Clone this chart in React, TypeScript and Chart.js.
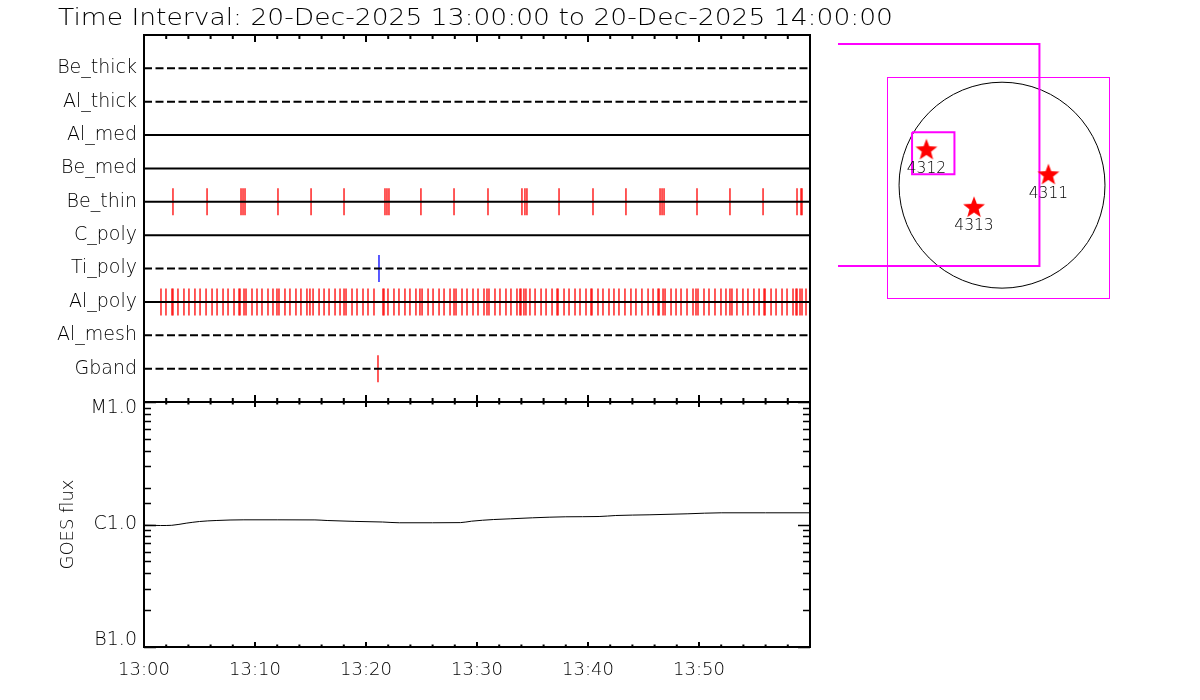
import React, { useEffect, useRef } from 'react';
import { Chart, registerables } from 'chart.js';

Chart.register(...registerables);

// ---------------- data ----------------
const TITLE = 'Time Interval: 20-Dec-2025 13:00:00 to 20-Dec-2025 14:00:00';

const FILTERS = ['Be_thick', 'Al_thick', 'Al_med', 'Be_med', 'Be_thin', 'C_poly', 'Ti_poly', 'Al_poly', 'Al_mesh', 'Gband'];
const FILTER_DASHED = [true, true, false, false, false, false, true, false, true, true];

// exposure times, minutes after 13:00
const BE_THIN_TIMES = [2.61, 5.68, 8.74, 8.92, 9.10, 12.07, 15.05, 18.02, 21.71, 21.89, 22.07, 24.95, 27.93,
  30.99, 34.05, 34.32, 34.50, 37.39, 40.45, 43.42, 46.49, 46.67, 46.85, 49.82, 52.79, 55.77, 58.83, 59.19, 59.28];
const TI_POLY_TIMES = [21.17];
const AL_POLY_TIMES = [1.53, 1.98, 2.52, 2.61, 3.06, 3.60, 4.05, 4.59, 5.05, 5.59, 6.13, 6.58, 7.12, 7.57, 8.11,
  8.56, 8.65, 9.01, 9.19, 9.73, 10.18, 10.63, 11.17, 11.62, 11.98, 12.16, 12.70, 13.15, 13.69, 14.14, 14.68, 14.95,
  15.23, 15.77, 16.22, 16.67, 17.21, 17.66, 18.02, 18.20, 18.74, 19.19, 19.73, 20.18, 20.72, 21.53, 21.62, 21.98,
  22.52, 22.97, 23.51, 23.96, 24.50, 24.86, 25.05, 25.59, 26.04, 26.58, 27.03, 27.57, 27.93, 28.11, 28.65, 29.10,
  29.64, 30.09, 30.63, 30.90, 31.08, 31.62, 32.07, 32.61, 33.06, 33.60, 33.87, 33.96, 34.23, 34.41, 34.77, 35.23,
  35.77, 36.22, 36.76, 37.21, 37.30, 37.84, 38.29, 38.83, 39.28, 39.82, 40.27, 40.36, 40.90, 41.35, 41.89, 42.34,
  42.79, 43.33, 43.87, 44.32, 44.86, 45.41, 45.86, 46.31, 46.40, 46.76, 46.94, 47.48, 47.93, 48.38, 48.92, 49.46,
  49.73, 49.91, 50.45, 50.90, 51.44, 51.98, 52.43, 52.79, 52.97, 53.42, 53.96, 54.41, 54.95, 55.41, 55.86, 55.95,
  56.49, 56.94, 57.48, 57.93, 58.47, 58.74, 58.83, 59.10, 59.28, 59.64];
const GBAND_TIMES = [21.08];

const TIME_TICK_LABELS = ['13:00', '13:10', '13:20', '13:30', '13:40', '13:50'];

const GOES_MINUTES = [0, 1.5, 2.5, 3.8, 5.0, 6.5, 9, 12, 15.4, 16.5, 19, 21.5, 23, 26, 28.5, 29.5, 31.5, 33, 35, 38,
  41, 42.5, 45.5, 49, 52, 56, 60];
const GOES_FLUX = [0.987e-6, 0.981e-6, 0.985e-6, 1.025e-6, 1.058e-6, 1.078e-6, 1.092e-6, 1.092e-6, 1.090e-6,
  1.078e-6, 1.060e-6, 1.048e-6, 1.033e-6, 1.033e-6, 1.036e-6, 1.064e-6, 1.098e-6, 1.113e-6, 1.134e-6, 1.156e-6,
  1.162e-6, 1.184e-6, 1.200e-6, 1.223e-6, 1.246e-6, 1.246e-6, 1.246e-6];
const FLUX_TICK_VALUES = [1e-7, 1e-6, 1e-5];
const FLUX_TICK_LABELS = ['B1.0', 'C1.0', 'M1.0'];

// solar map (arcsec)
const AR_NUMBERS = ['4312', '4311', '4313'];
const AR_X = [-715, 439, -265];
const AR_Y = [331, 95, -214];
const FOV_X = [-1750, 354, 354, -1750, -1750];
const FOV_Y = [1338, 1338, -766, -766, 1338];
const SUBFOV_X = [-851, -450, -450, -851, -851];
const SUBFOV_Y = [501, 501, 104, 104, 501];
const SOLAR_RADIUS = 974;

// ---------------- helpers ----------------
const FONT = 'DejaVu Sans';
const WEIGHT = 200;
const MAGENTA = '#ff00ff';

function makeStar(size: number, color: string) {
  const c = document.createElement('canvas');
  c.width = size;
  c.height = size;
  const g = c.getContext('2d')!;
  const R = size / 2 - 0.5;
  const r = R * 0.42;
  const cx = size / 2;
  const cy = size / 2;
  g.beginPath();
  for (let i = 0; i < 10; i++) {
    const ang = -Math.PI / 2 + (i * Math.PI) / 5;
    const rad = i % 2 === 0 ? R : r;
    g.lineTo(cx + rad * Math.cos(ang), cy + rad * Math.sin(ang));
  }
  g.closePath();
  g.fillStyle = color;
  g.fill();
  return c;
}

function isMajorFlux(v: number) {
  return FLUX_TICK_VALUES.findIndex((f) => Math.abs(f - v) / f < 1e-6);
}

function zeroPad(s: any) {
  s.paddingTop = 0;
  s.paddingBottom = 0;
  s.paddingLeft = 0;
  s.paddingRight = 0;
}

export default function App() {
  const topRef = useRef<HTMLCanvasElement>(null);
  const botRef = useRef<HTMLCanvasElement>(null);
  const sunRef = useRef<HTMLCanvasElement>(null);

  useEffect(() => {
    Chart.defaults.font.family = FONT;
    Chart.defaults.color = '#000';

    // ---------- top panel: filter timeline ----------
    const rowLines = FILTERS.map((name, i) => ({
      type: 'line' as const,
      label: name,
      data: [{ x: 0, y: i + 1 }, { x: 60, y: i + 1 }],
      borderColor: '#000',
      borderWidth: 2,
      borderDash: FILTER_DASHED[i] ? [8, 3.5] : [],
      pointRadius: 0,
      order: 0,
    }));
    const exposures = [
      { name: 'Be_thin', times: BE_THIN_TIMES, color: '#ff0000' },
      { name: 'Ti_poly', times: TI_POLY_TIMES, color: '#0000ff' },
      { name: 'Al_poly', times: AL_POLY_TIMES, color: '#ff0000' },
      { name: 'Gband', times: GBAND_TIMES, color: '#ff0000' },
    ].map((s) => ({
      type: 'scatter' as const,
      label: s.name + ' exposures',
      data: s.times.map((t) => ({ x: t, y: FILTERS.indexOf(s.name) + 1 })),
      pointStyle: 'line',
      pointRotation: 90,
      pointRadius: 13.5,
      pointBorderColor: s.color,
      pointBorderWidth: 1.3,
      borderColor: s.color,
      order: 1,
      clip: false,
    }));

    const topPlugin = {
      id: 'topFrame',
      afterDraw(chart: any) {
        const { ctx, chartArea: a } = chart;
        const xs = chart.scales.x;
        ctx.save();
        ctx.strokeStyle = '#000';
        ctx.lineWidth = 2;
        ctx.strokeRect(a.left, a.top, a.right - a.left, a.bottom - a.top);
        ctx.beginPath();
        xs.ticks.forEach((t: any) => {
          const px = xs.getPixelForValue(t.value);
          const len = t.value % 10 === 0 ? 7 : 4;
          ctx.moveTo(px, a.top);
          ctx.lineTo(px, a.top + len);
          ctx.moveTo(px, a.bottom);
          ctx.lineTo(px, a.bottom - len);
        });
        ctx.stroke();
        // title
        ctx.font = `${WEIGHT} 23px "${FONT}"`;
        ctx.fillStyle = '#000';
        ctx.textBaseline = 'alphabetic';
        ctx.textAlign = 'left';
        const w = ctx.measureText(TITLE).width;
        ctx.translate(58, 25);
        ctx.scale(835 / w, 1);
        ctx.fillText(TITLE, 0, 0);
        ctx.restore();
      },
    };

    const top = new Chart(topRef.current!, {
      type: 'line',
      data: { datasets: [...rowLines, ...exposures] as any },
      options: {
        animation: false,
        responsive: false,
        devicePixelRatio: 1,
        events: [],
        layout: { autoPadding: false, padding: { top: 35, right: 90, bottom: 8, left: 0 } },
        plugins: { legend: { display: false }, tooltip: { enabled: false } },
        scales: {
          x: {
            type: 'linear', min: 0, max: 60,
            ticks: { display: false, stepSize: 2 },
            grid: { display: false, drawTicks: false },
            border: { display: false },
            afterFit: (s: any) => { s.height = 0; zeroPad(s); },
          },
          y: {
            type: 'linear', min: 0, max: 11, reverse: true,
            ticks: {
              stepSize: 1, autoSkip: false, padding: 7, color: '#000',
              font: { family: FONT, size: 19, weight: WEIGHT },
              callback: (v: any) => FILTERS[Number(v) - 1] ?? '',
            },
            grid: { display: false, drawTicks: false },
            border: { display: false },
            afterFit: (s: any) => { s.width = 144; zeroPad(s); },
          },
        },
      } as any,
      plugins: [topPlugin],
    });

    // ---------- bottom panel: GOES flux ----------
    const botPlugin = {
      id: 'botFrame',
      afterDraw(chart: any) {
        const { ctx, chartArea: a } = chart;
        const xs = chart.scales.x;
        const ys = chart.scales.y;
        ctx.save();
        ctx.strokeStyle = '#000';
        ctx.lineWidth = 2;
        ctx.strokeRect(a.left, a.top, a.right - a.left, a.bottom - a.top);
        ctx.beginPath();
        xs.ticks.forEach((t: any) => {
          const px = xs.getPixelForValue(t.value);
          const len = t.value % 10 === 0 ? 5 : 2.5;
          ctx.moveTo(px, a.top);
          ctx.lineTo(px, a.top + len);
          ctx.moveTo(px, a.bottom);
          ctx.lineTo(px, a.bottom - len);
        });
        ctx.stroke();
        ctx.lineWidth = 1.5;
        ctx.beginPath();
        ys.ticks.forEach((t: any) => {
          const py = Math.round(ys.getPixelForValue(t.value)) + 0.5;
          const len = isMajorFlux(t.value) >= 0 ? 12 : 7;
          ctx.moveTo(a.left, py);
          ctx.lineTo(a.left + len, py);
          ctx.moveTo(a.right, py);
          ctx.lineTo(a.right - len, py);
        });
        ctx.stroke();
        ctx.restore();
      },
    };

    const bot = new Chart(botRef.current!, {
      type: 'line',
      data: {
        datasets: [{
          label: 'GOES flux',
          data: GOES_MINUTES.map((m, i) => ({ x: m, y: GOES_FLUX[i] })),
          borderColor: '#000',
          borderWidth: 1,
          pointRadius: 0,
          cubicInterpolationMode: 'monotone',
        }],
      },
      options: {
        animation: false,
        responsive: false,
        devicePixelRatio: 1,
        events: [],
        layout: { autoPadding: false, padding: { top: 12, right: 20, bottom: 0, left: 54 } },
        plugins: { legend: { display: false }, tooltip: { enabled: false } },
        scales: {
          x: {
            type: 'linear', min: 0, max: 60,
            ticks: {
              stepSize: 2, autoSkip: false, maxRotation: 0, padding: 13, color: '#000',
              font: { family: FONT, size: 18, weight: WEIGHT },
              callback: (v: any) => (Number(v) % 10 === 0 ? TIME_TICK_LABELS[Number(v) / 10] ?? '' : ''),
            },
            grid: { display: false, drawTicks: false },
            border: { display: false },
            afterFit: (s: any) => { s.height = 53; zeroPad(s); },
          },
          y: {
            type: 'logarithmic', min: 1e-7, max: 1e-5,
            ticks: {
              autoSkip: false, padding: 7, color: '#000',
              font: { family: FONT, size: 19, weight: WEIGHT, lineHeight: '13px' },
              callback: (v: any) => {
                const i = isMajorFlux(Number(v));
                if (i < 0) return '';
                // keep the end labels inside the axis range
                if (i === FLUX_TICK_VALUES.length - 1) return ['', FLUX_TICK_LABELS[i]];
                if (i === 0) return [FLUX_TICK_LABELS[i], ''];
                return FLUX_TICK_LABELS[i];
              },
            },
            title: { display: true, text: 'GOES flux', color: '#000', font: { family: FONT, size: 18, weight: WEIGHT } },
            grid: { display: false, drawTicks: false },
            border: { display: false },
            afterFit: (s: any) => { s.width = 90; zeroPad(s); },
          },
        },
      } as any,
      plugins: [botPlugin],
    });

    // ---------- solar map ----------
    const star = makeStar(24, '#ff0000');
    const sunPlugin = {
      id: 'sunMap',
      beforeDatasetsDraw(chart: any) {
        const { ctx, chartArea: a } = chart;
        const xs = chart.scales.x;
        const ys = chart.scales.y;
        ctx.save();
        ctx.strokeStyle = MAGENTA;
        ctx.lineWidth = 1;
        const l = Math.round(a.left) + 0.5;
        const t = Math.round(a.top) + 0.5;
        const r0 = Math.round(a.right) + 0.5;
        const b = Math.round(a.bottom) + 0.5;
        ctx.strokeRect(l, t, r0 - l, b - t);
        const cx = xs.getPixelForValue(0);
        const cy = ys.getPixelForValue(0);
        const r = xs.getPixelForValue(SOLAR_RADIUS) - cx;
        ctx.strokeStyle = '#000';
        ctx.beginPath();
        ctx.arc(cx, cy, r, 0, Math.PI * 2);
        ctx.stroke();
        ctx.restore();
      },
      afterDatasetsDraw(chart: any) {
        const { ctx } = chart;
        const xs = chart.scales.x;
        const ys = chart.scales.y;
        ctx.save();
        ctx.font = `${WEIGHT} 15.5px "${FONT}"`;
        ctx.fillStyle = '#000';
        ctx.textAlign = 'center';
        ctx.textBaseline = 'middle';
        AR_NUMBERS.forEach((n, i) => {
          ctx.fillText(n, xs.getPixelForValue(AR_X[i]), ys.getPixelForValue(AR_Y[i]) + 18.5);
        });
        ctx.restore();
      },
    };

    const sun = new Chart(sunRef.current!, {
      type: 'scatter',
      data: {
        datasets: [
          {
            label: 'Active regions',
            data: AR_X.map((x, i) => ({ x, y: AR_Y[i] })),
            pointStyle: star as any,
            pointRadius: 11,
            order: 0,
          },
          {
            label: 'FOV',
            data: FOV_X.map((x, i) => ({ x, y: FOV_Y[i] })),
            showLine: true,
            borderColor: MAGENTA,
            borderWidth: 2,
            pointRadius: 0,
            clip: false,
            order: 1,
          },
          {
            label: 'Sub FOV',
            data: SUBFOV_X.map((x, i) => ({ x, y: SUBFOV_Y[i] })),
            showLine: true,
            borderColor: MAGENTA,
            borderWidth: 2,
            pointRadius: 0,
            clip: false,
            order: 1,
          },
        ] as any,
      },
      options: {
        animation: false,
        responsive: false,
        devicePixelRatio: 1,
        events: [],
        layout: { autoPadding: false, padding: { top: 77, right: 91, bottom: 32, left: 49 } },
        plugins: { legend: { display: false }, tooltip: { enabled: false } },
        scales: {
          x: { type: 'linear', min: -1088, max: 1012, display: false },
          y: { type: 'linear', min: -1069, max: 1025, display: false },
        },
      } as any,
      plugins: [sunPlugin],
    });

    return () => {
      top.destroy();
      bot.destroy();
      sun.destroy();
    };
  }, []);

  return (
    <div style={{ position: 'absolute', left: 0, top: 0, width: 1200, height: 700, background: '#fff', overflow: 'hidden' }}>
      <canvas ref={topRef} width={900} height={410} style={{ position: 'absolute', left: 0, top: 0 }} />
      <canvas ref={botRef} width={830} height={310} style={{ position: 'absolute', left: 0, top: 390 }} />
      <canvas ref={sunRef} width={362} height={330} style={{ position: 'absolute', left: 838, top: 0 }} />
    </div>
  );
}
